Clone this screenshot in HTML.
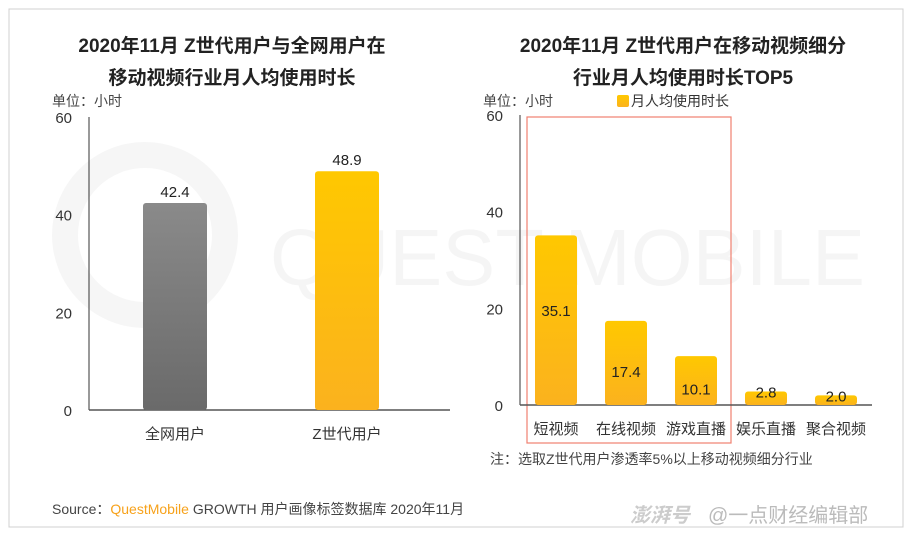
<!DOCTYPE html>
<html><head><meta charset="utf-8"><style>
body{margin:0;background:#fff;}
svg text{font-family:"Liberation Sans","Noto Sans CJK SC",sans-serif;}
</style></head><body>
<svg width="912" height="533" xmlns="http://www.w3.org/2000/svg">
<defs>
<linearGradient id="gy" x1="0" y1="0" x2="0" y2="1"><stop offset="0" stop-color="#ffc800"/><stop offset="1" stop-color="#fbb21e"/></linearGradient>
<linearGradient id="gg" x1="0" y1="0" x2="0" y2="1"><stop offset="0" stop-color="#8a8a8a"/><stop offset="1" stop-color="#6a6a6a"/></linearGradient>
</defs>
<rect x="9" y="9" width="894" height="518" fill="#fff" stroke="#d0d0d0"/>
<g opacity="0.035">
<circle cx="145" cy="235" r="80" fill="none" stroke="#000" stroke-width="26"/>
<text x="270" y="285" font-size="80" fill="#000" textLength="595" lengthAdjust="spacingAndGlyphs">QUEST MOBILE</text>
</g>
<text x="232" y="52" font-size="19" font-weight="bold" fill="#222" text-anchor="middle">2020年11月 Z世代用户与全网用户在</text>
<text x="232" y="84" font-size="19" font-weight="bold" fill="#222" text-anchor="middle">移动视频行业月人均使用时长</text>
<text x="683" y="52" font-size="19" font-weight="bold" fill="#222" text-anchor="middle">2020年11月 Z世代用户在移动视频细分</text>
<text x="683" y="84" font-size="19" font-weight="bold" fill="#222" text-anchor="middle">行业月人均使用时长TOP5</text>
<text x="52" y="106" font-size="14" fill="#444">单位：小时</text>
<text x="483" y="106" font-size="14" fill="#444">单位：小时</text>
<g><rect x="617" y="95" width="12" height="12" rx="2" fill="url(#gy)"/><text x="631" y="106" font-size="14" fill="#333">月人均使用时长</text></g>
<rect x="527" y="117" width="204" height="326" fill="none" stroke="#f08070" stroke-width="1.2"/>
<text x="490" y="464" font-size="14" fill="#444">注：选取Z世代用户渗透率5%以上移动视频细分行业</text>
<text x="52" y="514" font-size="14" fill="#444">Source：<tspan fill="#f7a21b">QuestMobile</tspan> GROWTH 用户画像标签数据库 2020年11月</text>
<text x="630" y="522" font-size="20" font-style="italic" font-weight="bold" fill="#ccc">澎湃号</text>
<text x="708" y="522" font-size="20" fill="#bbb">@一点财经编辑部</text>
<g id="left"></g><g id="right"></g>
</svg>
<script>
const leftCats=["全网用户","Z世代用户"];
const leftVals=[42.4,48.9];
const rightCats=["短视频","在线视频","游戏直播","娱乐直播","聚合视频"];
const rightVals=[35.1,17.4,10.1,2.8,2.0];
const ticks=[0,20,40,60];
const NS="http://www.w3.org/2000/svg";
function mk(p,t,a){const e=document.createElementNS(NS,t);for(const k in a)e.setAttribute(k,a[k]);p.appendChild(e);return e;}
function draw(g,cats,vals,o){
 const y=v=>o.y0-(v/60)*(o.y0-o.y60);
 let l=mk(g,'line',{x1:o.ax,y1:o.y60,x2:o.ax,y2:o.y0,stroke:'#333'});
 
 
 l=mk(g,'line',{x1:o.ax,y1:o.y0,x2:o.xe,y2:o.y0,stroke:'#555','stroke-width':1.5});
 
 
 ticks.forEach(t=>{const tx=mk(g,'text',{x:o.ax-17,y:y(t)+6,'font-size':15,fill:'#333','text-anchor':'end'});tx.textContent=t;
  
  });
 cats.forEach((c,i)=>{const cx=o.c0+i*o.step;const top=y(vals[i]);
  const r=mk(g,'rect',{x:cx-o.bw/2,y:top,width:o.bw,height:o.y0-top,rx:3,fill:o.fills[i]});
  
  
  let ty;
  if(!o.inside) ty=top-6;
  else if(vals[i]>5) ty=top+(o.y0-top)*0.5+(vals[i]>30?-4:14);
  else ty=top+6;
  const v=mk(g,'text',{x:cx,y:ty,'font-size':15,fill:'#222','text-anchor':'middle'});
  v.textContent=vals[i].toFixed(1);
  
  
  const t=mk(g,'text',{x:cx,y:o.y0+29,'font-size':15,fill:'#333','text-anchor':'middle'});t.textContent=c;
  
  });
}
draw(document.getElementById('left'),leftCats,leftVals,{ax:89,xe:450,y0:410,y60:117,c0:175,step:172,bw:64,fills:['url(#gg)','url(#gy)']});
draw(document.getElementById('right'),rightCats,rightVals,{ax:520,xe:872,y0:405,y60:115,c0:556,step:70,bw:42,fills:Array(5).fill('url(#gy)'),inside:true});
</script>
</body></html>
